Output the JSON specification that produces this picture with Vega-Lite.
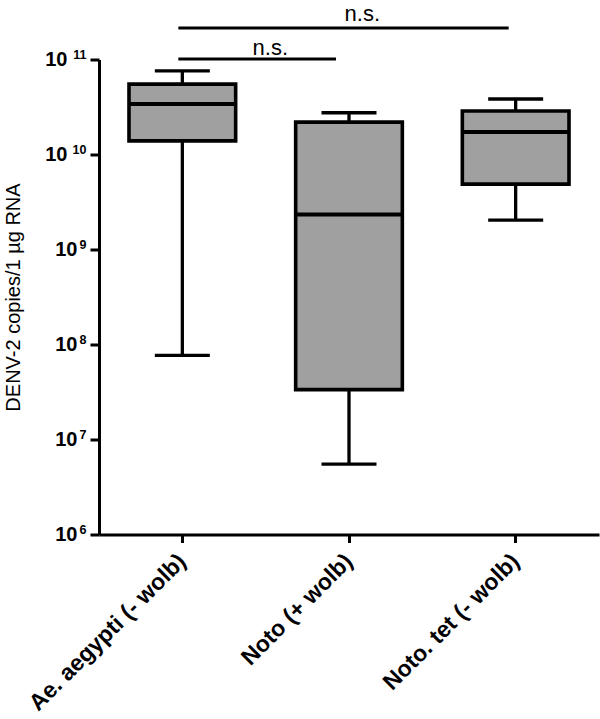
{
  "$schema": "https://vega.github.io/schema/vega-lite/v6.json",
  "width": 500,
  "height": 475,
  "autosize": {"type": "none"},
  "padding": {"left": 99, "top": 59.5, "right": 1, "bottom": 184.5},
  "datasets": {
    "boxes": [
      {"group": "Ae. aegypti (- wolb)", "min": 7.7e7, "q1": 1.39e10, "median": 3.4e10, "q3": 5.5e10, "max": 7.6e10},
      {"group": "Noto (+ wolb)", "min": 5.5e6, "q1": 3.35e7, "median": 2.34e9, "q3": 2.19e10, "max": 2.75e10},
      {"group": "Noto. tet (- wolb)", "min": 2.04e9, "q1": 4.88e9, "median": 1.73e10, "q3": 2.87e10, "max": 3.84e10}
    ],
    "sig": [
      {"pair": "short", "group": "Ae. aegypti (- wolb)", "group2": "Noto (+ wolb)", "y": 1.01e11, "label": "n.s."},
      {"pair": "long", "group": "Ae. aegypti (- wolb)", "group2": "Noto. tet (- wolb)", "y": 2.15e11, "label": "n.s."}
    ]
  },
  "encoding": {
    "x": {
      "field": "group",
      "type": "nominal",
      "sort": null,
      "scale": {"domain": ["Ae. aegypti (- wolb)", "Noto (+ wolb)", "Noto. tet (- wolb)"], "paddingInner": 0, "paddingOuter": 0},
      "axis": {
        "title": null,
        "labelAngle": -45,
        "labelAlign": "right",
        "labelBaseline": "middle",
        "labelFont": "Liberation Sans",
        "labelFontWeight": "bold",
        "labelFontSize": 23,
        "labelColor": "black",
        "labelPadding": 15,
        "labelLimit": 400,
        "tickSize": 8,
        "tickWidth": 3,
        "tickColor": "black",
        "domainWidth": 3,
        "domainColor": "black",
        "grid": false
      }
    }
  },
  "layer": [
    {
      "data": {"name": "boxes"},
      "mark": {"type": "rule", "color": "black", "strokeWidth": 3.3, "opacity": 1},
      "encoding": {
        "y": {
          "field": "min",
          "type": "quantitative",
          "scale": {"type": "log", "domain": [1e6, 1e11], "nice": false},
          "axis": {
            "orient": "left",
            "title": "DENV-2 copies/1 µg RNA",
            "titleFont": "Liberation Sans",
            "titleFontSize": 20,
            "titleFontWeight": "normal",
            "titleColor": "black",
            "titlePadding": 21,
            "values": [1e6, 1e7, 1e8, 1e9, 1e10, 1e11],
            "labelExpr": "'10'",
            "labelFont": "Liberation Sans",
            "labelFontWeight": "bold",
            "labelFontSize": 20,
            "labelColor": "black",
            "labelBaseline": "middle",
            "labelAlign": "right",
            "labelPadding": {"condition": {"test": "datum.value >= 1e10", "value": 23}, "value": 13},
            "tickSize": 9,
            "tickWidth": 3,
            "tickColor": "black",
            "domainWidth": 3,
            "domainColor": "black",
            "grid": false
          }
        },
        "y2": {"field": "max"}
      }
    },
    {
      "data": {"name": "boxes"},
      "mark": {"type": "tick", "color": "black", "opacity": 1, "size": 55, "thickness": 3.3, "orient": "horizontal"},
      "encoding": {
        "y": {
          "field": "max",
          "type": "quantitative",
          "scale": {"type": "log", "domain": [1e6, 1e11], "nice": false},
          "axis": {
            "orient": "left",
            "title": null,
            "values": [1e6, 1e7, 1e8, 1e9, 1e10, 1e11],
            "labelExpr": "'' + round(log(datum.value) / LN10)",
            "labelFont": "Liberation Sans",
            "labelFontWeight": "bold",
            "labelFontSize": 12.5,
            "labelColor": "black",
            "labelBaseline": "alphabetic",
            "labelAlign": "right",
            "labelPadding": 4,
            "labelOffset": -1,
            "tickSize": 9,
            "tickOpacity": 0,
            "domain": false,
            "grid": false
          }
        }
      }
    },
    {
      "data": {"name": "boxes"},
      "mark": {"type": "tick", "color": "black", "opacity": 1, "size": 55, "thickness": 3.3, "orient": "horizontal"},
      "encoding": {
        "y": {
          "field": "min",
          "type": "quantitative",
          "scale": {"type": "log", "domain": [1e6, 1e11], "nice": false},
          "axis": null
        }
      }
    },
    {
      "data": {"name": "boxes"},
      "mark": {"type": "bar", "fill": "#a0a0a0", "stroke": "black", "strokeWidth": 3.6, "opacity": 1, "width": {"band": 0.64}},
      "encoding": {
        "y": {
          "field": "q1",
          "type": "quantitative",
          "scale": {"type": "log", "domain": [1e6, 1e11], "nice": false},
          "axis": null
        },
        "y2": {"field": "q3"}
      }
    },
    {
      "data": {"name": "boxes"},
      "mark": {"type": "tick", "color": "black", "opacity": 1, "size": 107, "thickness": 4, "orient": "horizontal"},
      "encoding": {
        "y": {
          "field": "median",
          "type": "quantitative",
          "scale": {"type": "log", "domain": [1e6, 1e11], "nice": false},
          "axis": null
        }
      }
    },
    {
      "data": {"name": "sig"},
      "transform": [{"filter": "datum.pair === 'short'"}],
      "mark": {"type": "rule", "color": "black", "strokeWidth": 3, "opacity": 1, "xOffset": -4, "x2Offset": -13},
      "encoding": {
        "x2": {"field": "group2"},
        "y": {
          "field": "y",
          "type": "quantitative",
          "scale": {"type": "log", "domain": [1e6, 1e11], "nice": false},
          "axis": null
        }
      }
    },
    {
      "data": {"name": "sig"},
      "transform": [{"filter": "datum.pair === 'long'"}],
      "mark": {"type": "rule", "color": "black", "strokeWidth": 3, "opacity": 1, "xOffset": -4, "x2Offset": -7},
      "encoding": {
        "x2": {"field": "group2"},
        "y": {
          "field": "y",
          "type": "quantitative",
          "scale": {"type": "log", "domain": [1e6, 1e11], "nice": false},
          "axis": null
        }
      }
    },
    {
      "data": {"name": "sig"},
      "transform": [{"filter": "datum.pair === 'short'"}],
      "mark": {"type": "text", "font": "Liberation Sans", "fontSize": 22, "color": "black", "baseline": "alphabetic", "align": "center", "dx": 88, "dy": -4},
      "encoding": {
        "text": {"field": "label"},
        "y": {
          "field": "y",
          "type": "quantitative",
          "scale": {"type": "log", "domain": [1e6, 1e11], "nice": false},
          "axis": null
        }
      }
    },
    {
      "data": {"name": "sig"},
      "transform": [{"filter": "datum.pair === 'long'"}],
      "mark": {"type": "text", "font": "Liberation Sans", "fontSize": 22, "color": "black", "baseline": "alphabetic", "align": "center", "dx": 180, "dy": -7},
      "encoding": {
        "text": {"field": "label"},
        "y": {
          "field": "y",
          "type": "quantitative",
          "scale": {"type": "log", "domain": [1e6, 1e11], "nice": false},
          "axis": null
        }
      }
    }
  ],
  "resolve": {"scale": {"y": "shared"}, "axis": {"y": "independent"}},
  "config": {
    "view": {"stroke": null},
    "font": "Liberation Sans"
  }
}
